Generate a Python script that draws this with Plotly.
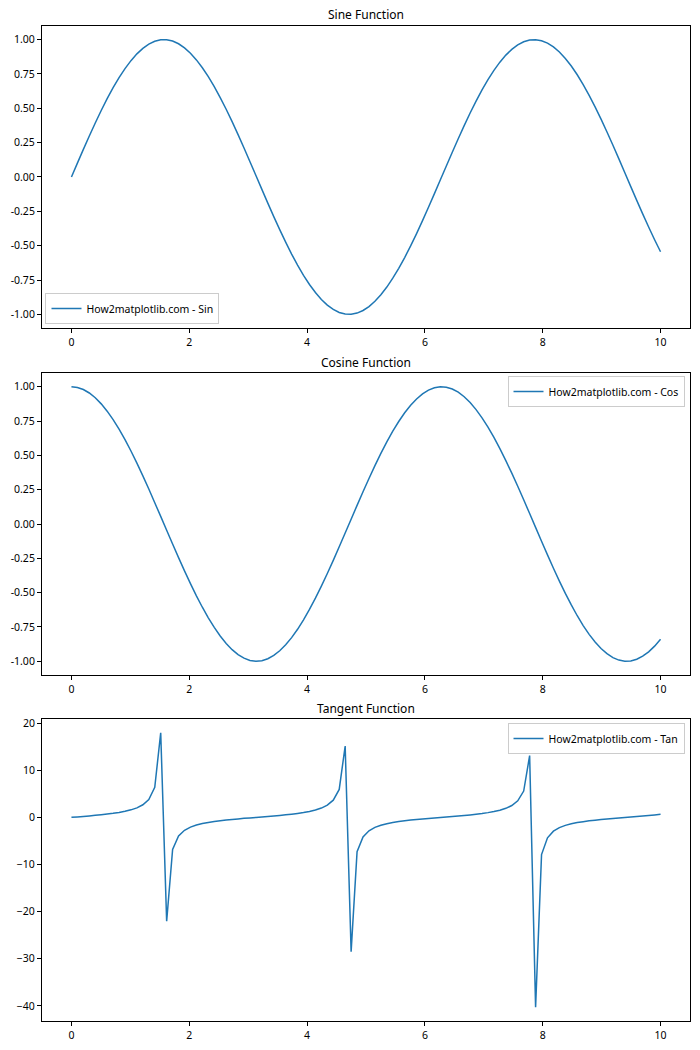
import plotly.graph_objects as go

x_values = [0.0, 0.10101, 0.20202, 0.30303, 0.40404, 0.50505, 0.60606, 0.70707, 0.80808, 0.90909,
            1.0101, 1.11111, 1.21212, 1.31313, 1.41414, 1.51515, 1.61616, 1.71717, 1.81818, 1.91919,
            2.0202, 2.12121, 2.22222, 2.32323, 2.42424, 2.52525, 2.62626, 2.72727, 2.82828, 2.92929,
            3.0303, 3.13131, 3.23232, 3.33333, 3.43434, 3.53535, 3.63636, 3.73737, 3.83838, 3.93939,
            4.0404, 4.14141, 4.24242, 4.34343, 4.44444, 4.54545, 4.64646, 4.74747, 4.84848, 4.94949,
            5.05051, 5.15152, 5.25253, 5.35354, 5.45455, 5.55556, 5.65657, 5.75758, 5.85859, 5.9596,
            6.06061, 6.16162, 6.26263, 6.36364, 6.46465, 6.56566, 6.66667, 6.76768, 6.86869, 6.9697,
            7.07071, 7.17172, 7.27273, 7.37374, 7.47475, 7.57576, 7.67677, 7.77778, 7.87879, 7.9798,
            8.08081, 8.18182, 8.28283, 8.38384, 8.48485, 8.58586, 8.68687, 8.78788, 8.88889, 8.9899,
            9.09091, 9.19192, 9.29293, 9.39394, 9.49495, 9.59596, 9.69697, 9.79798, 9.89899, 10.0]

sin_values = [0.0, 0.10084, 0.20065, 0.29841, 0.39314, 0.48385, 0.56963, 0.6496, 0.72296, 0.78894,
              0.84688, 0.89619, 0.93639, 0.96707, 0.98794, 0.99878, 0.99897, 0.98931, 0.96956, 0.93993,
              0.9007, 0.85232, 0.79522, 0.73001, 0.65743, 0.57806, 0.49283, 0.40258, 0.30821, 0.21071,
              0.11106, 0.01028, -0.09061, -0.19057, -0.28859, -0.38364, -0.47478, -0.56108, -0.64168, -0.71573,
              -0.78252, -0.84137, -0.89168, -0.9327, -0.96432, -0.9861, -0.99783, -0.99938, -0.99075, -0.97202,
              -0.94338, -0.90513, -0.85764, -0.80141, -0.73693, -0.6651, -0.58641, -0.50183, -0.41194, -0.31797,
              -0.22075, -0.12127, -0.02056, 0.08036, 0.18047, 0.27873, 0.37415, 0.46577, 0.55262, 0.63384,
              0.7085, 0.77608, 0.83576, 0.88698, 0.92895, 0.96154, 0.98434, 0.9971, 0.99969, 0.9921,
              0.97439, 0.94674, 0.90945, 0.86285, 0.80755, 0.74389, 0.67274, 0.59456, 0.51035, 0.4213,
              0.3277, 0.23076, 0.13147, 0.03084, -0.07011, -0.17035, -0.26885, -0.3646, -0.45663, -0.54402]

cos_values = [1.0, 0.9949, 0.97966, 0.95443, 0.91948, 0.87515, 0.8219, 0.76027, 0.69089, 0.61446,
              0.53177, 0.44366, 0.35101, 0.25466, 0.1548, 0.05562, -0.04534, -0.14585, -0.24487, -0.34139,
              -0.43442, -0.52302, -0.60632, -0.68345, -0.75352, -0.81601, -0.87014, -0.9154, -0.95131, -0.97755,
              -0.99381, -0.99995, -0.99589, -0.98167, -0.95745, -0.92348, -0.8801, -0.82777, -0.76697, -0.69838,
              -0.62258, -0.54045, -0.45268, -0.36065, -0.26476, -0.16617, -0.06588, 0.03507, 0.13567, 0.23489,
              0.33172, 0.42516, 0.51426, 0.59812, 0.67596, 0.74676, 0.81002, 0.86497, 0.91121, 0.9481,
              0.97533, 0.99262, 0.99979, 0.99677, 0.98358, 0.96037, 0.92737, 0.88491, 0.83343, 0.77347,
              0.70571, 0.63065, 0.5491, 0.46179, 0.3702, 0.27465, 0.17629, 0.07613, -0.02481, -0.12549,
              -0.22489, -0.322, -0.41585, -0.50545, -0.5898, -0.6683, -0.73989, -0.80405, -0.85997, -0.90692,
              -0.94478, -0.97301, -0.99132, -0.99952, -0.99754, -0.98538, -0.96318, -0.93117, -0.88965, -0.83907]

tan_values = [0.0, 0.10135, 0.20482, 0.31266, 0.42757, 0.55288, 0.69306, 0.85443, 1.04641, 1.28396,
              1.59257, 2.01998, 2.6677, 3.79749, 6.382, 17.957, -22.033, -6.783, -3.9595, -2.7533,
              -2.0734, -1.6296, -1.3116, -1.0681, -0.8725, -0.7084, -0.5664, -0.4398, -0.324, -0.2156,
              -0.1118, -0.0103, 0.091, 0.1941, 0.3014, 0.4154, 0.5395, 0.6778, 0.8366, 1.0248,
              1.2569, 1.5568, 1.9698, 2.5862, 3.6422, 5.9343, 15.146, -28.497, -7.3025, -4.1382,
              -2.8439, -2.1289, -1.6677, -1.3399, -1.0902, -0.8907, -0.7239, -0.5802, -0.4521, -0.3354,
              -0.2263, -0.1222, -0.0206, 0.0806, 0.1835, 0.2902, 0.4035, 0.5263, 0.6631, 0.8195,
              1.004, 1.2306, 1.5221, 1.9207, 2.5093, 3.5009, 5.5836, 13.097, -40.294, -7.9058,
              -4.3327, -2.9402, -2.187, -1.7071, -1.3692, -1.1131, -0.9092, -0.7395, -0.5935, -0.4645,
              -0.3469, -0.2372, -0.1326, -0.0309, 0.0703, 0.1729, 0.2791, 0.3916, 0.5133, 0.6484]

titles = ["Sine Function", "Cosine Function", "Tangent Function"]
labels = ["How2matplotlib.com - Sin", "How2matplotlib.com - Cos", "How2matplotlib.com - Tan"]
x_ticks = [0, 2, 4, 6, 8, 10]
trig_ticks = [-1.0, -0.75, -0.5, -0.25, 0.0, 0.25, 0.5, 0.75, 1.0]
trig_tick_text = ["-1.00", "-0.75", "-0.50", "-0.25", "0.00", "0.25", "0.50", "0.75", "1.00"]
tan_ticks = [-40, -30, -20, -10, 0, 10, 20]

W, H = 700, 1050
ML, MR, MT, MB = 41.5, 9.5, 26, 29
plot_h = H - MT - MB
plot_w = W - ML - MR

def py(px):
    return (H - MB - px) / plot_h

def px_x(px):
    return (px - ML) / plot_w

domains = [[py(328), 1.0], [py(675), py(373)], [0.0, py(719)]]

fig = go.Figure()
series = [sin_values, cos_values, tan_values]
legend_names = ["legend", "legend2", "legend3"]
for k in range(3):
    fig.add_trace(go.Scatter(
        x=x_values, y=series[k], mode="lines", name=labels[k],
        line=dict(color="#1f77b4", width=1.5, simplify=False),
        xaxis="x" if k == 0 else f"x{k+1}", yaxis="y" if k == 0 else f"y{k+1}",
        legend=legend_names[k], showlegend=True,
    ))

font_family = "Noto Sans, Open Sans, DejaVu Sans, sans-serif"
axis_common = dict(showline=True, linecolor="black", linewidth=1, mirror=True,
                   ticks="outside", ticklen=4, tickwidth=1, tickcolor="black",
                   showgrid=False, zeroline=False, automargin=False,
                   tickfont=dict(size=10.5, color="black", family=font_family))

layout = dict(
    template="none",
    width=W, height=H, plot_bgcolor="white", paper_bgcolor="white",
    margin=dict(l=ML, r=MR, t=MT, b=MB, pad=0, autoexpand=False),
    font=dict(family=font_family, color="black"),
)
yranges = [[-1.0994, 1.099], [-1.1, 1.1], [-43.21, 20.87]]
for k in range(3):
    xname = "xaxis" if k == 0 else f"xaxis{k+1}"
    yname = "yaxis" if k == 0 else f"yaxis{k+1}"
    xa = dict(axis_common, domain=[0, 1], range=[-0.5, 10.5], tickvals=x_ticks,
              anchor="y" if k == 0 else f"y{k+1}")
    if k == 2:
        ya = dict(axis_common, domain=domains[k], range=yranges[k], tickvals=tan_ticks)
    else:
        ya = dict(axis_common, domain=domains[k], range=yranges[k], tickvals=trig_ticks,
                  ticktext=trig_tick_text)
    ya["anchor"] = "x" if k == 0 else f"x{k+1}"
    layout[xname] = xa
    layout[yname] = ya

legend_style = dict(bgcolor="rgba(255,255,255,0.8)", bordercolor="#cccccc", borderwidth=1,
                    font=dict(size=10.5, color="black", family=font_family),
                    itemwidth=30, tracegroupgap=0)
layout["legend"] = dict(legend_style, x=px_x(45), y=py(324),
                        xanchor="left", yanchor="bottom")
layout["legend2"] = dict(legend_style, x=px_x(685), y=py(376),
                         xanchor="right", yanchor="top")
layout["legend3"] = dict(legend_style, x=px_x(685), y=py(723),
                         xanchor="right", yanchor="top")

fig.update_layout(**layout)

title_y = [15, 362, 708]
for k in range(3):
    fig.add_annotation(text=titles[k], x=0.5, y=py(title_y[k]), xref="paper", yref="paper",
                       showarrow=False, xanchor="center", yanchor="middle",
                       font=dict(size=12, color="black", family=font_family))

fig.write_html("out.html", config={"displayModeBar": False},
               post_script="document.body.style.margin='0';document.body.style.padding='0';")
